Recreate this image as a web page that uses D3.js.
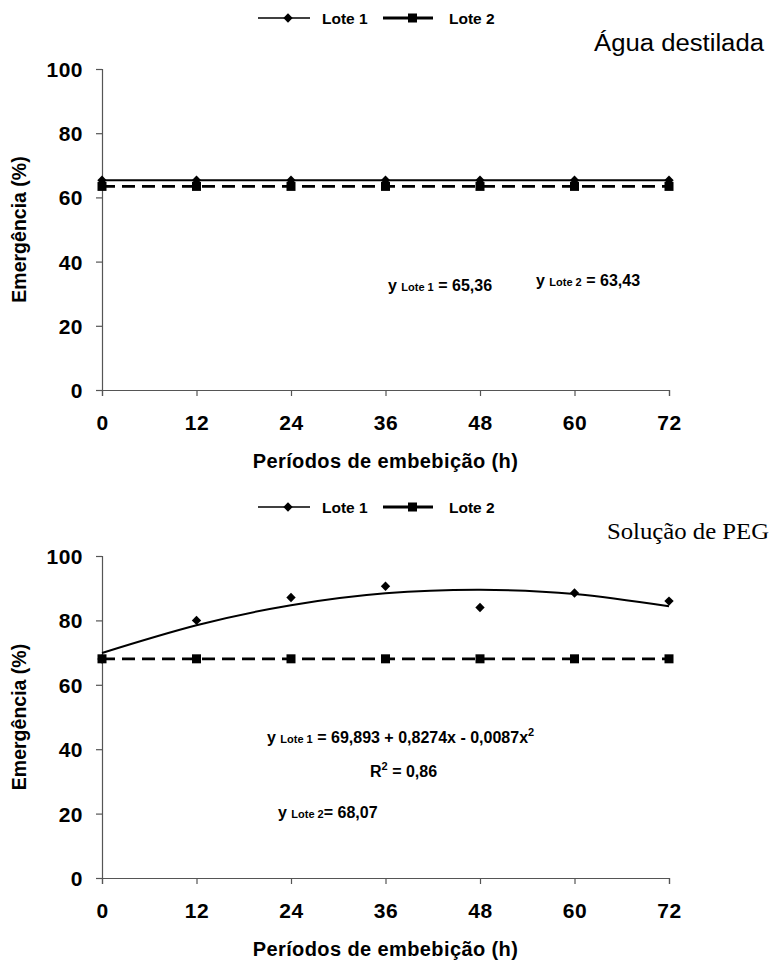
<!DOCTYPE html>
<html><head><meta charset="utf-8">
<script src="https://cdn.jsdelivr.net/npm/d3@7"></script>
<style>
body{margin:0;background:#fff;}
</style></head>
<body>
<svg id="c" width="778" height="962" font-family="Liberation Sans, Arial, sans-serif"></svg>
<script>
// ---- data ----
const periods = [0, 12, 24, 36, 48, 60, 72];
const yTicks = [0, 20, 40, 60, 80, 100];
const seriesNames = ["Lote 1", "Lote 2"];
// Água destilada
const aguaLote1 = [65.36, 65.36, 65.36, 65.36, 65.36, 65.36, 65.36];
const aguaLote2 = [63.43, 63.43, 63.43, 63.43, 63.43, 63.43, 63.43];
// Solução de PEG
const pegLote1 = [68.0, 80.0, 87.1, 90.6, 84.0, 88.5, 86.0];
const pegLote1Fit = [69.9, 78.5, 84.7, 88.4, 89.5, 88.2, 84.4];
const pegLote2 = [68.07, 68.07, 68.07, 68.07, 68.07, 68.07, 68.07];

const svg = d3.select("#c");
const diamond = d3.symbol().type(d3.symbolDiamond2 || d3.symbolDiamond).size(56);
const SANS = "Liberation Sans, Arial, sans-serif";
const SERIF = "Liberation Serif, Times New Roman, serif";

function panel(cfg){
  const g = svg.append("g");
  const x = d3.scaleLinear().domain([0,72]).range([102,669]);
  const y = d3.scaleLinear().domain([0,100]).range([cfg.y0, cfg.y100]);

  // axes
  const ax = g.append("g").attr("transform",`translate(0,${cfg.y0})`)
    .call(d3.axisBottom(x).tickValues(periods).tickSize(6).tickPadding(19).tickFormat(d3.format("d")));
  const ay = g.append("g").attr("transform",`translate(102,0)`)
    .call(d3.axisLeft(y).tickValues(yTicks).tickSize(6).tickPadding(13));
  [ax,ay].forEach(a=>{
    a.select(".domain").attr("stroke","#555").attr("stroke-width",1.2);
    a.selectAll(".tick line").attr("stroke","#555").attr("stroke-width",1.2);
    a.selectAll(".tick text").attr("fill","#000").attr("font-size",21).attr("font-weight","bold")
      .attr("font-family",SANS).style("letter-spacing","0.5px");
  });
  ax.selectAll(".tick text").attr("dy","0.71em");
  ay.selectAll(".tick text").attr("dy","0.36em");

  // axis titles
  g.append("text").attr("x",(102+669)/2).attr("y",cfg.y0+78).attr("text-anchor","middle")
    .attr("font-size",20).attr("font-weight","bold").style("letter-spacing","0.4px").text("Períodos de embebição (h)");
  g.append("text").attr("transform",`translate(26,${(cfg.y0+cfg.y100)/2}) rotate(-90)`)
    .attr("text-anchor","middle").attr("font-size",19.5).attr("font-weight","bold").text("Emergência (%)");

  // legend
  const ly = cfg.legendY;
  g.append("line").attr("x1",258).attr("x2",310).attr("y1",ly).attr("y2",ly).attr("stroke","#000").attr("stroke-width",1.5);
  g.append("path").attr("d",diamond).attr("transform",`translate(288,${ly})`).attr("fill","#000");
  g.append("text").attr("x",322).attr("y",ly+5.5).attr("font-size",15.5).attr("font-weight","bold").text(seriesNames[0]);
  g.append("line").attr("x1",383).attr("x2",433).attr("y1",ly).attr("y2",ly).attr("stroke","#000").attr("stroke-width",3);
  g.append("rect").attr("x",408).attr("y",ly-4.5).attr("width",9).attr("height",9).attr("fill","#000");
  g.append("text").attr("x",449).attr("y",ly+5.5).attr("font-size",15.5).attr("font-weight","bold").text(seriesNames[1]);

  // title
  g.append("text").attr("x",cfg.titleX).attr("y",cfg.titleY).attr("font-size",cfg.titleSize)
    .style("font-family",cfg.titleFont).attr("fill","#000")
    .attr("textLength",cfg.titleLen).attr("lengthAdjust","spacingAndGlyphs").text(cfg.title);

  const line = d3.line().x((d,i)=>x(periods[i])).y(d=>y(d));
  // Lote 1 line
  g.append("path").datum(cfg.l1line).attr("d",line.curve(cfg.curve)).attr("fill","none")
    .attr("stroke","#000").attr("stroke-width",2);
  // Lote 2 dashed
  g.append("path").datum(cfg.l2).attr("d",d3.line().x((d,i)=>x(periods[i])).y(d=>y(d))).attr("fill","none")
    .attr("stroke","#000").attr("stroke-width",2.8).attr("stroke-dasharray","13,7");
  // markers
  g.selectAll(".d1").data(cfg.l1).join("path").attr("d",diamond)
    .attr("transform",(d,i)=>`translate(${x(periods[i])},${y(d)})`).attr("fill","#000");
  g.selectAll(".s2").data(cfg.l2).join("rect")
    .attr("x",(d,i)=>x(periods[i])-4.5).attr("y",d=>y(d)-4.5).attr("width",9).attr("height",9).attr("fill","#000");
  return g;
}

function eq(g, xPos, yPos, sub, rest){
  const t = g.append("text").attr("x",xPos).attr("y",yPos).attr("font-size",16).attr("font-weight","bold");
  t.append("tspan").text("y ");
  t.append("tspan").attr("font-size",11).text(sub);
  t.append("tspan").text(rest);
  return t;
}

const g1 = panel({y0:390, y100:69, legendY:18, title:"Água destilada", titleX:594, titleY:51, titleSize:23, titleLen:170,
  titleFont:SANS, l1:aguaLote1, l1line:aguaLote1, l2:aguaLote2, curve:d3.curveLinear});
eq(g1, 388, 291, "Lote 1", " = 65,36");
eq(g1, 536, 286, "Lote 2", " = 63,43");

const g2 = panel({y0:878, y100:556, legendY:507, title:"Solução de PEG", titleX:607, titleY:539, titleSize:24, titleLen:162,
  titleFont:SERIF, l1:pegLote1, l1line:pegLote1Fit, l2:pegLote2, curve:d3.curveNatural});
const t = eq(g2, 267, 743, "Lote 1", " = 69,893 + 0,8274x - 0,0087x");
t.append("tspan").attr("font-size",11).attr("dy",-7).text("2");
const r = g2.append("text").attr("x",370).attr("y",777).attr("font-size",16).attr("font-weight","bold");
r.append("tspan").text("R");
r.append("tspan").attr("font-size",11).attr("dy",-7).text("2");
r.append("tspan").attr("dy",7).text(" = 0,86");
eq(g2, 278, 818, "Lote 2", "= 68,07");
</script>
</body></html>
